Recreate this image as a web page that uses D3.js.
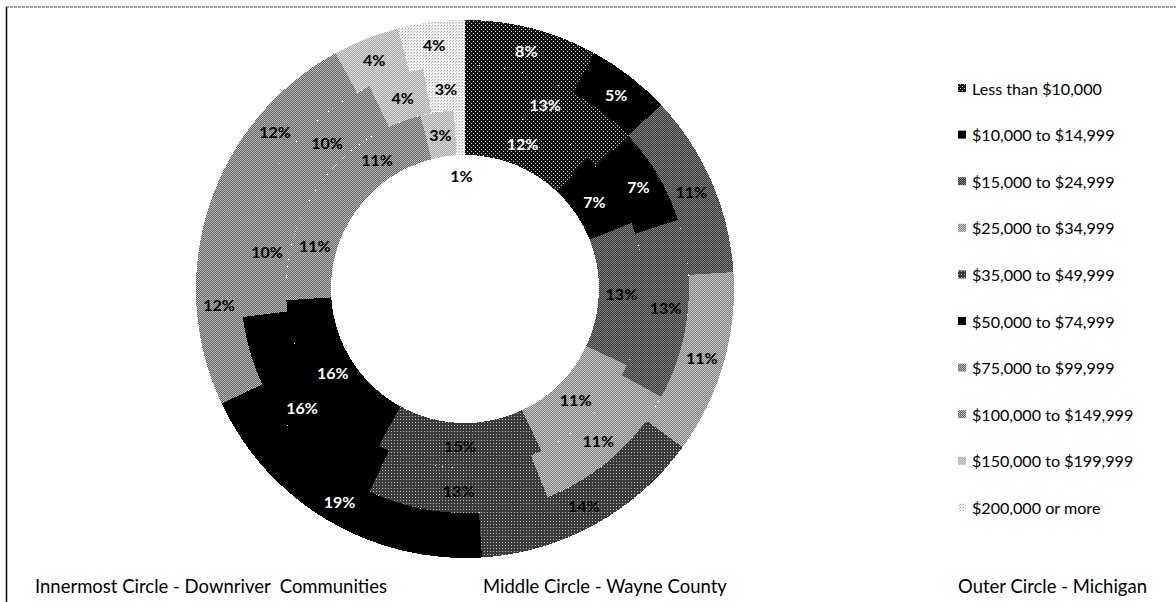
<!DOCTYPE html>
<html>
<head>
<meta charset="utf-8">
<script src="https://cdn.jsdelivr.net/npm/d3@7"></script>
<style>
  html, body { margin: 0; padding: 0; background: #fff; }
  svg { display: block; }
</style>
</head>
<body>
<svg id="chart" width="1176" height="602"></svg>
<script>
// ---- data ----
const categories = [
  "Less than $10,000", "$10,000 to $14,999", "$15,000 to $24,999",
  "$25,000 to $34,999", "$35,000 to $49,999", "$50,000 to $74,999",
  "$75,000 to $99,999", "$100,000 to $149,999", "$150,000 to $199,999",
  "$200,000 or more"
];
const downriver = [12, 7, 13, 11, 15, 16, 11, 11, 3, 1];   // innermost ring
const wayne     = [13, 7, 13, 11, 13, 16, 10, 10, 4, 3];   // middle ring
const michigan  = [8, 5, 11, 11, 14, 19, 12, 12, 4, 4];    // outer ring
const ringNames = ["Innermost Circle - Downriver  Communities",
                   "Middle Circle - Wayne County",
                   "Outer Circle - Michigan"];

// ---- layout / style ----
const W = 1176, H = 602;
const cx = 465, cy = 289;
const rInner = 134, ringW = 45;
const svg = d3.select("#chart");
const FONT = "Lato, 'Open Sans', 'Liberation Sans', sans-serif";

// patterns emulating the monochrome fills
const defs = svg.append("defs");
const patternSpecs = [
  { size: 4, base: "#151515", pts: [[0,0,"#d0d0d0"],[2,2,"#d0d0d0"]] },                 // <10k dotted dark
  { size: 2, base: "#000000", pts: [] },                                                 // 10-15k black
  { size: 2, base: "#363636", pts: [[0,0,"#8a8a8a"],[1,1,"#7a7a7a"]] },                 // 15-25k dark textured
  { size: 2, base: "#7c7c7c", pts: [[0,0,"#d0d0d0"],[1,1,"#c4c4c4"]] },                 // 25-35k light gray
  { size: 3, base: "#3a3a3a", pts: [[1,1,"#bdbdbd"]] },                                  // 35-50k dark dotted
  { size: 2, base: "#000000", pts: [] },                                                 // 50-75k black
  { size: 2, base: "#606060", pts: [[0,0,"#c4c4c4"],[1,1,"#b8b8b8"]] },                 // 75-100k medium
  { size: 2, base: "#5a5a5a", pts: [[0,0,"#bcbcbc"],[1,1,"#c8c8c8"]] },                 // 100-150k medium
  { size: 2, base: "#a8a8a8", pts: [[0,0,"#e0e0e0"],[1,1,"#d6d6d6"]] },                 // 150-200k light
  { size: 3, base: "#f2f2f2", pts: [[0,0,"#a0a0a0"],[2,1,"#c0c0c0"]] }                  // 200k+ very light
];
patternSpecs.forEach((p, i) => {
  const pat = defs.append("pattern")
    .attr("id", "pat" + i)
    .attr("patternUnits", "userSpaceOnUse")
    .attr("width", p.size).attr("height", p.size);
  pat.append("rect").attr("width", p.size).attr("height", p.size).attr("fill", p.base);
  p.pts.forEach(([x, y, c]) => pat.append("rect")
    .attr("x", x).attr("y", y).attr("width", 1).attr("height", 1).attr("fill", c));
});
const fillOf = i => `url(#pat${i})`;
const labelColor = [ "#fff", "#fff", "#000", "#000", "#000", "#fff", "#000", "#000", "#000", "#000" ];

// frame lines (left & top)
svg.append("line").attr("x1", 6.5).attr("y1", 7).attr("x2", 6.5).attr("y2", H)
  .attr("stroke", "#000").attr("stroke-width", 1.5);
svg.append("line").attr("x1", 6).attr("y1", 7).attr("x2", W).attr("y2", 7)
  .attr("stroke", "#444").attr("stroke-width", 1).attr("stroke-dasharray", "3,1");

// rings
const pie = d3.pie().sort(null).value(d => d);
const rings = [downriver, wayne, michigan];
const g = svg.append("g").attr("transform", `translate(${cx},${cy})`);

rings.forEach((vals, ri) => {
  const r0 = rInner + ri * ringW, r1 = r0 + ringW;
  const arc = d3.arc().innerRadius(r0).outerRadius(r1);
  const arcs = pie(vals);
  g.append("g").selectAll("path").data(arcs).join("path")
    .attr("d", arc)
    .attr("fill", (d, i) => fillOf(i))
    .attr("shape-rendering", "crispEdges");
});

// labels (drawn after all rings)
rings.forEach((vals, ri) => {
  const r0 = rInner + ri * ringW, r1 = r0 + ringW;
  const arc = d3.arc().innerRadius(r0).outerRadius(r1);
  const arcs = pie(vals);
  g.append("g").selectAll("text").data(arcs).join("text")
    .attr("transform", (d) => {
      if (d.value < 2) {
        // tiny slice: label pushed into the hole
        const a = (d.startAngle + d.endAngle) / 2, r = r0 - 20;
        return `translate(${r * Math.sin(a)},${-r * Math.cos(a)})`;
      }
      return `translate(${arc.centroid(d)})`;
    })
    .attr("text-anchor", "middle")
    .attr("dominant-baseline", "central")
    .attr("font-family", FONT)
    .attr("font-weight", "bold")
    .attr("font-size", 16)
    .attr("fill", (d, i) => d.value < 2 ? "#000" : labelColor[i])
    .text(d => d.value + "%");
});

// legend
const legX = 958, legY0 = 88, legStep = 46.6;
const leg = svg.append("g");
categories.forEach((c, i) => {
  const y = legY0 + i * legStep;
  leg.append("rect").attr("x", legX).attr("y", y - 4).attr("width", 8).attr("height", 8)
    .attr("fill", fillOf(i));
  leg.append("text").attr("class", "legtxt")
    .attr("x", legX + 14).attr("y", y)
    .attr("dominant-baseline", "central")
    .attr("font-family", FONT).attr("font-size", 16)
    .attr("fill", "#000")
    .text(c);
});
// fit legend font so first entry is ~130px wide
(function fit() {
  const t = leg.select("text.legtxt").node();
  const w = t.getComputedTextLength();
  const fs = 16 * 130 / w;
  leg.selectAll("text.legtxt").attr("font-size", fs);
})();

// ring captions along the bottom
const capX = [35, 483, 958];
const caps = svg.append("g");
ringNames.forEach((n, i) => {
  caps.append("text").attr("class", "cap")
    .attr("x", capX[i]).attr("y", 586)
    .attr("dominant-baseline", "central")
    .attr("font-family", FONT).attr("font-size", 16)
    .attr("fill", "#000")
    .attr("xml:space", "preserve")
    .style("white-space", "pre")
    .text(n);
});
(function fitCaps() {
  const t = caps.selectAll("text.cap").nodes()[1];
  const w = t.getComputedTextLength();
  const fs = 16 * 244 / w;
  caps.selectAll("text.cap").attr("font-size", fs);
})();
</script>
</body>
</html>
